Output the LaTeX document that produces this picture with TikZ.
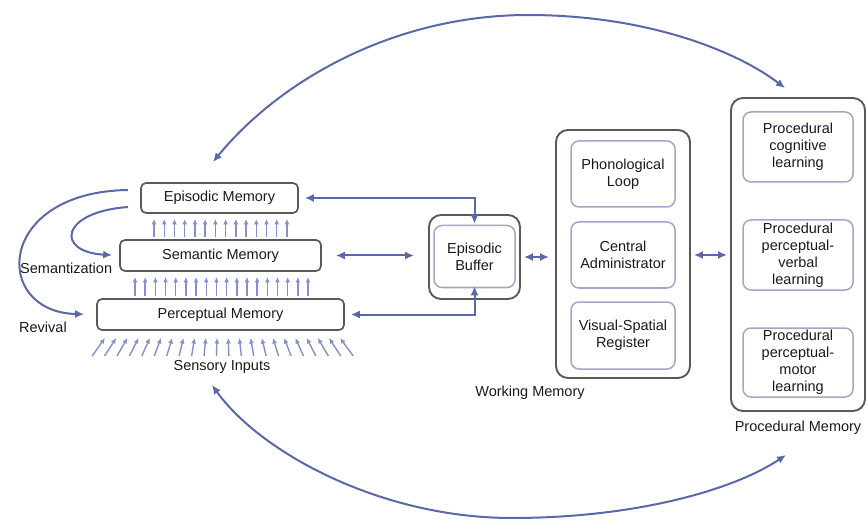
\documentclass[tikz,border=0pt]{standalone}
\usepackage{fontspec}
\setmainfont{Liberation Sans}
\usetikzlibrary{arrows.meta}
\definecolor{arr}{HTML}{5A68A8}
\definecolor{upc}{HTML}{8490CC}
\definecolor{boxd}{HTML}{5A5A5A}
\definecolor{inn}{HTML}{A0A8C4}
\definecolor{txt}{HTML}{1A1A1A}
\begin{document}
\begin{tikzpicture}[x=1pt,y=-1pt,
  font=\fontsize{14.5}{17}\selectfont,
  every node/.style={text=txt},
  membox/.style={draw=boxd, line width=1.7pt, rounded corners=5pt, inner sep=0pt},
  outbox/.style={draw=boxd, line width=1.9pt, rounded corners=12pt, inner sep=0pt},
  inbox/.style={draw=inn, line width=1.5pt, rounded corners=8pt, inner sep=0pt, align=center},
  lbl/.style={inner sep=0pt},
  conn/.style={draw=arr, line width=2pt, -{Latex[length=9pt,width=8pt]}},
  dconn/.style={draw=arr, line width=2pt, {Latex[length=9pt,width=8pt]}-{Latex[length=9pt,width=8pt]}},
  uparr/.style={draw=upc, line width=1.4pt, -{Latex[length=5.5pt,width=5pt]}},
]
\useasboundingbox (0,0) rectangle (867,521);

% left memory stack
\node[membox, minimum width=157pt, minimum height=30pt] (epi) at (219.5,198) {Episodic Memory};
\node[membox, minimum width=201pt, minimum height=31pt] (sem) at (220.5,255.5) {Semantic Memory};
\node[membox, minimum width=247pt, minimum height=31pt] (perc) at (220.5,314.5) {Perceptual Memory};

% episodic buffer
\node[outbox, minimum width=91pt, minimum height=84pt] (ebout) at (474.5,257) {};
\node[inbox, minimum width=81pt, minimum height=62pt] (ebin) at (474.5,256.5) {Episodic\\Buffer};

% working memory
\node[outbox, minimum width=134pt, minimum height=248pt] (wm) at (623,254) {};
\node[inbox, minimum width=104pt, minimum height=66pt] (phon) at (623,174) {Phonological\\Loop};
\node[inbox, minimum width=104pt, minimum height=66pt] (cent) at (623,255) {Central\\Administrator};
\node[inbox, minimum width=104pt, minimum height=67pt] (vis) at (623,335.5) {Visual-Spatial\\Register};

% procedural memory
\node[outbox, minimum width=134pt, minimum height=313pt] (pm) at (798,254.5) {};
\node[inbox, minimum width=110pt, minimum height=70pt] (cog) at (798,147) {Procedural\\cognitive\\learning};
\node[inbox, minimum width=110pt, minimum height=70pt] (verb) at (798,255) {Procedural\\perceptual-\\verbal\\learning};
\node[inbox, minimum width=110pt, minimum height=69pt] (mot) at (798,362.5) {Procedural\\perceptual-\\motor\\learning};

% labels
\node[lbl, anchor=west] (semz) at (20,268) {Semantization};
\node[lbl, anchor=west] (rev) at (19,327) {Revival};
\node[lbl] (sens) at (222,367) {Sensory Inputs};
\node[lbl] (wml) at (530,393) {Working Memory};
\node[lbl] (pml) at (798,428) {Procedural Memory};

% upward arrow rows
\foreach \i in {0,...,13} \draw[uparr] (154+\i*10.23,237) -- (154+\i*10.23,219);
\foreach \i in {0,...,17} \draw[uparr] (135+\i*10.18,296) -- (135+\i*10.18,277);
\foreach \i in {0,...,21} {
  \pgfmathsetmacro\xt{105+11.2*\i}
  \pgfmathsetmacro\xb{\xt-(222-\xt)*0.11}
  \draw[uparr] (\xb,356) -- (\xt,338);
}

% semantization / revival curves
\coordinate (c1) at (128,207);
\coordinate (c2) at (128,190);
\draw[conn, shorten >=7pt] (c1) .. controls (60,212) and (55,252) .. (sem.west);
\draw[conn, shorten >=12pt] (c2) .. controls (-5,192) and (-8,312) .. (perc.west);

% connections to episodic buffer
\draw[dconn, shorten <=6pt, shorten >=1pt] (epi.east) -| (ebin.north);
\draw[dconn, shorten <=14pt, shorten >=14pt] (sem.east) -- (sem.east -| ebout.west);
\draw[dconn, shorten <=6pt, shorten >=-2pt] (perc.east) -| (ebin.south);
\draw[dconn, shorten <=3pt, shorten >=6pt] (ebout.east) -- (ebout.east -| wm.west);
\draw[dconn, shorten <=3pt, shorten >=3pt] (wm.east |- cent.center) -- (pm.west |- cent.center);

% big arcs
\coordinate (ta) at (213,162);
\coordinate (tb) at (785,88);
\coordinate (ba) at (212,385);
\coordinate (bb) at (786,455);
\draw[dconn] (ta) .. controls (280,80) and (395,15) .. (528,15) .. controls (645,15) and (735,50) .. (tb);
\draw[dconn] (ba) .. controls (260,452) and (380,518) .. (512,518) .. controls (630,518) and (730,492) .. (bb);
\end{tikzpicture}
\end{document}
